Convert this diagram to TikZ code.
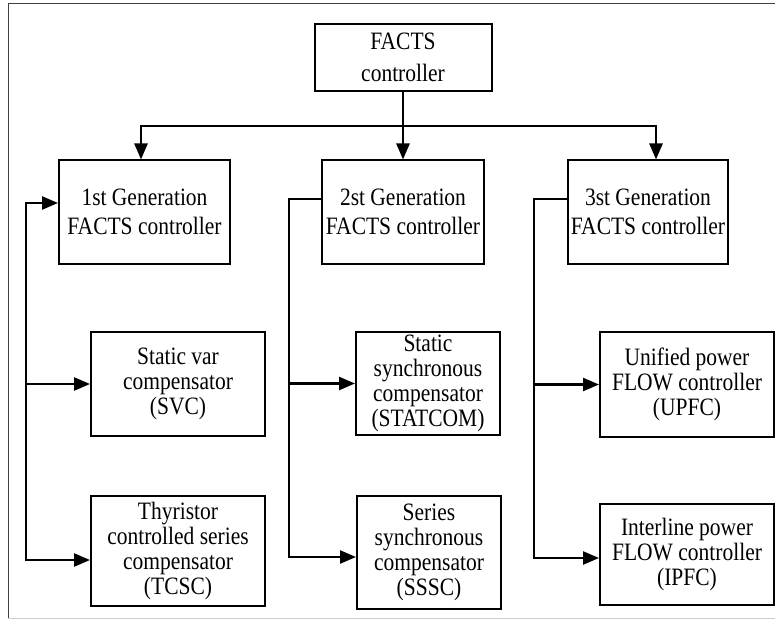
\documentclass[tikz,border=0pt]{standalone}
\usepackage{fontspec}
\setmainfont{Liberation Serif}[FakeStretch=0.86]
\usetikzlibrary{arrows.meta}
\tikzstyle{block}=[draw, line width=2pt, align=center, inner sep=0pt, font=\fontsize{25}{25}\selectfont]
\tikzstyle{link}=[draw, line width=2.4pt, ->]
\tikzstyle{frame}=[line width=1pt]

\begin{document}
\begin{tikzpicture}[x=1pt, y=-1pt, >={Triangle[length=16pt,width=13pt]}]
				\useasboundingbox (0,0) rectangle (775,620);
				% The frame round the chart
				\draw[frame, black!75] (776,4) -- (8,4) -- (8,618);
				\draw[frame, black!20] (8,618) -- (776,618);

				% First we draw the root and the three generations
				\node[block, minimum width=177pt, minimum height=67pt, font=\fontsize{25}{32}\selectfont] (top) at (403,57.5) {FACTS\\controller};
				\foreach \pos/\name/\w/\gen in {{(144.5,212)/gen1/171/1st}, {(403,212)/gen2/162/2st}, {(648,212)/gen3/160/3st}}
				\node[block, minimum width=\w pt, minimum height=103pt, font=\fontsize{25}{29}\selectfont] (\name) at \pos {\gen\ Generation\\FACTS controller};

				% Then the devices of each generation
				\foreach \pos/\name/\w/\h/\txt in {{(178,384)/svc/174/104/{Static var\\compensator\\(SVC)}},
										{(178,551)/tcsc/174/110/{Thyristor\\controlled series\\compensator\\(TCSC)}},
										{(428,383.5)/statcom/144/103/{Static\\synchronous\\compensator\\(STATCOM)}},
										{(429,552.5)/sssc/144/113/{Series\\synchronous\\compensator\\(SSSC)}},
										{(687,384.5)/upfc/174/105/{Unified power\\FLOW controller\\(UPFC)}},
										{(687,554.5)/ipfc/174/101/{Interline power\\FLOW controller\\(IPFC)}}}
				\node[block, minimum width=\w pt, minimum height=\h pt] (\name) at \pos {\txt};

				% Connect the root with the generations
				\coordinate (j1) at (141,126);
				\coordinate (j3) at (656,126);
				\path[link] (top) -- (gen2);
				\path[link, <->] (j1 |- gen1.north) -- (j1) -- (j3) -- (j3 |- gen3.north);

				% Connect each generation with its devices
				\coordinate (t1) at (26,203);
				\coordinate (b1) at (26,560);
				\path[link, <->] (t1 -| gen1.west) -- (t1) -- (b1) -- (b1 -| tcsc.west);
				\path[link] (t1 |- svc) -- (svc);

				\coordinate (t2) at (289,199);
				\coordinate (b2) at (289,557);
				\path[link] (t2 -| gen2.west) -- (t2) -- (b2) -- (b2 -| sssc.west);
				\path[link] (t2 |- statcom) -- (statcom);

				\coordinate (t3) at (534,199);
				\coordinate (b3) at (534,558);
				\path[link] (t3 -| gen3.west) -- (t3) -- (b3) -- (b3 -| ipfc.west);
				\path[link] (t3 |- upfc) -- (upfc);
			\end{tikzpicture}
\end{document}
